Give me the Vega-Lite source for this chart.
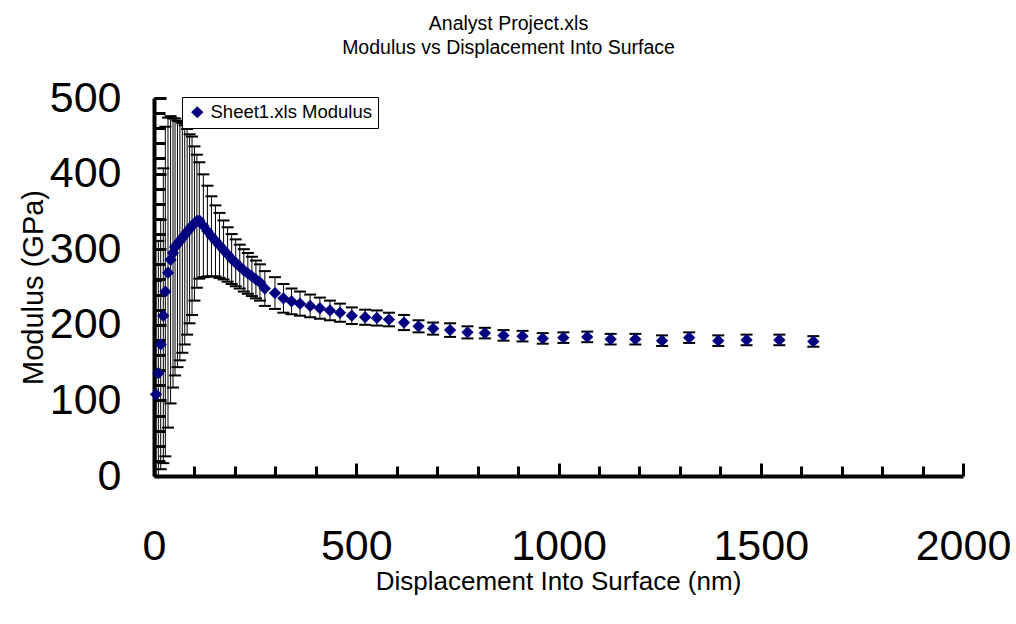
{
  "$schema": "https://vega.github.io/schema/vega-lite/v6.json",
  "width": 809,
  "height": 378,
  "autosize": {"type": "none"},
  "padding": {"left": 154, "top": 98, "right": 53, "bottom": 148},
  "background": "white",
  "title": {
    "text": ["Analyst Project.xls", "Modulus vs Displacement Into Surface"],
    "font": "Liberation Sans",
    "fontSize": 19.5,
    "fontWeight": "normal",
    "color": "black",
    "lineHeight": 24,
    "anchor": "middle",
    "dx": -50,
    "offset": 19
  },
  "config": {
    "view": {"stroke": null},
    "font": "Liberation Sans",
    "axis": {"labelOverlap": false}
  },
  "resolve": {"axis": {"y": "independent"}},
  "data": {
    "values": [
      {"x": 5, "y": 108, "lo": -42, "hi": 258},
      {"x": 10.7, "y": 136, "lo": -39, "hi": 311},
      {"x": 16.5, "y": 174, "lo": 9, "hi": 339},
      {"x": 23, "y": 212, "lo": 17, "hi": 407},
      {"x": 28, "y": 244, "lo": 26, "hi": 462},
      {"x": 34.6, "y": 269, "lo": 64, "hi": 474},
      {"x": 41, "y": 286, "lo": 96, "hi": 476},
      {"x": 47, "y": 295, "lo": 117, "hi": 473},
      {"x": 52, "y": 303, "lo": 133, "hi": 473},
      {"x": 58, "y": 307, "lo": 144, "hi": 470},
      {"x": 64, "y": 311, "lo": 153, "hi": 469},
      {"x": 70, "y": 315, "lo": 163, "hi": 467},
      {"x": 76, "y": 319, "lo": 174, "hi": 464},
      {"x": 82, "y": 323, "lo": 187, "hi": 459},
      {"x": 88, "y": 327, "lo": 202, "hi": 452},
      {"x": 94, "y": 331, "lo": 213, "hi": 449},
      {"x": 100, "y": 334, "lo": 232, "hi": 436},
      {"x": 106, "y": 337, "lo": 249, "hi": 425},
      {"x": 112, "y": 338, "lo": 261, "hi": 415},
      {"x": 122, "y": 331, "lo": 263, "hi": 399},
      {"x": 132, "y": 324, "lo": 264, "hi": 384},
      {"x": 142, "y": 317, "lo": 264, "hi": 370},
      {"x": 152, "y": 311, "lo": 264, "hi": 358},
      {"x": 162, "y": 305, "lo": 262, "hi": 348},
      {"x": 172, "y": 299, "lo": 260, "hi": 338},
      {"x": 182, "y": 293, "lo": 257, "hi": 329},
      {"x": 192, "y": 287, "lo": 254, "hi": 320},
      {"x": 202, "y": 282, "lo": 251, "hi": 313},
      {"x": 212, "y": 277, "lo": 248, "hi": 306},
      {"x": 222, "y": 272, "lo": 244, "hi": 300},
      {"x": 232, "y": 268, "lo": 241, "hi": 295},
      {"x": 242, "y": 264, "lo": 238, "hi": 290},
      {"x": 252, "y": 260, "lo": 235, "hi": 285},
      {"x": 262, "y": 256, "lo": 232, "hi": 280},
      {"x": 274, "y": 248, "lo": 225, "hi": 271},
      {"x": 299, "y": 242, "lo": 221, "hi": 263},
      {"x": 320, "y": 235, "lo": 216, "hi": 254},
      {"x": 340, "y": 231, "lo": 214, "hi": 248},
      {"x": 361, "y": 228, "lo": 212, "hi": 244},
      {"x": 386, "y": 225, "lo": 210, "hi": 240},
      {"x": 410, "y": 222, "lo": 208, "hi": 236},
      {"x": 435, "y": 219, "lo": 206, "hi": 232},
      {"x": 460, "y": 216, "lo": 204, "hi": 228},
      {"x": 489, "y": 212, "lo": 201, "hi": 223},
      {"x": 522, "y": 210, "lo": 200, "hi": 220},
      {"x": 551, "y": 209, "lo": 199, "hi": 219},
      {"x": 581, "y": 207, "lo": 198, "hi": 216},
      {"x": 618, "y": 203, "lo": 193, "hi": 213},
      {"x": 654, "y": 198, "lo": 190, "hi": 206},
      {"x": 690, "y": 195, "lo": 187, "hi": 203},
      {"x": 732, "y": 193, "lo": 184, "hi": 202},
      {"x": 775, "y": 190, "lo": 182, "hi": 198},
      {"x": 818, "y": 189, "lo": 182, "hi": 196},
      {"x": 864, "y": 186, "lo": 179, "hi": 193},
      {"x": 911, "y": 185, "lo": 178, "hi": 192},
      {"x": 961, "y": 182, "lo": 175, "hi": 189},
      {"x": 1012, "y": 183, "lo": 176, "hi": 190},
      {"x": 1071, "y": 184, "lo": 177, "hi": 191},
      {"x": 1129, "y": 181, "lo": 174, "hi": 188},
      {"x": 1190, "y": 181, "lo": 174, "hi": 188},
      {"x": 1256, "y": 179, "lo": 172, "hi": 186},
      {"x": 1323, "y": 183, "lo": 176, "hi": 190},
      {"x": 1395, "y": 179, "lo": 172, "hi": 186},
      {"x": 1465, "y": 180, "lo": 173, "hi": 187},
      {"x": 1546, "y": 180, "lo": 173, "hi": 187},
      {"x": 1630, "y": 178, "lo": 171, "hi": 185}
    ]
  },
  "encoding": {
    "x": {
      "field": "x",
      "type": "quantitative",
      "scale": {"domain": [0, 2000], "nice": false, "zero": false},
      "axis": {
        "title": "Displacement Into Surface (nm)",
        "values": [0,100,200,300,400,500,600,700,800,900,1000,1100,1200,1300,1400,1500,1600,1700,1800,1900,2000],
        "labelExpr": "datum.value % 500 === 0 ? datum.label : ''",
        "format": "d",
        "grid": false,
        "domainColor": "black",
        "domainWidth": 4,
        "tickColor": "black",
        "tickWidth": 3,
        "tickSize": {"condition": {"test": "datum.value % 500 === 0", "value": -13}, "value": -10},
        "labelFontSize": 43,
        "labelColor": "black",
        "labelPadding": 62,
        "labelFlush": false,
        "labelOverlap": false,
        "titleFontSize": 26,
        "titleFontWeight": "normal",
        "titleColor": "black",
        "titleX": 404,
        "titleY": 105,
        "titleBaseline": "middle",
        "titleAlign": "center"
      }
    }
  },
  "layer": [
    {
      "mark": {"type": "rule", "color": "black", "strokeWidth": 1, "clip": true},
      "encoding": {
        "y": {
          "field": "lo",
          "type": "quantitative",
          "scale": {"domain": [0, 500], "nice": false, "zero": false},
          "axis": {
            "orient": "left",
            "title": "Modulus (GPa)",
            "values": [0, 100, 200, 300, 400, 500],
            "format": "d",
            "grid": false,
            "domainColor": "black",
            "domainWidth": 4,
            "tickColor": "black",
            "tickWidth": 3,
            "tickSize": -12,
            "labelFontSize": 43,
            "labelColor": "black",
            "labelPadding": 45,
            "labelFlush": false,
            "labelOverlap": false,
            "labelBound": false,
            "titleFontSize": 29,
            "titleFontWeight": "normal",
            "titleColor": "black",
            "titleX": -121,
            "titleY": 189,
            "titleAngle": -90,
            "titleBaseline": "middle",
            "titleAlign": "center"
          }
        },
        "y2": {"field": "hi"}
      }
    },
    {
      "mark": {"type": "point", "shape": "stroke", "filled": false, "stroke": "black", "strokeWidth": 2, "size": 144, "opacity": 1, "clip": true},
      "encoding": {
        "y": {
          "field": "lo",
          "type": "quantitative",
          "axis": {
            "orient": "left",
            "title": null,
            "values": [0,20,40,60,80,100,120,140,160,180,200,220,240,260,280,300,320,340,360,380,400,420,440,460,480,500],
            "labels": false,
            "domain": false,
            "grid": false,
            "offset": 0,
            "tickColor": "black",
            "tickWidth": 3,
            "tickSize": -11
          }
        }
      }
    },
    {
      "mark": {"type": "point", "shape": "stroke", "filled": false, "stroke": "black", "strokeWidth": 2, "size": 144, "opacity": 1, "clip": true},
      "encoding": {
        "y": {"field": "hi", "type": "quantitative", "axis": null}
      }
    },
    {
      "mark": {"type": "point", "shape": "diamond", "filled": true, "size": 150, "opacity": 1, "strokeWidth": 1},
      "encoding": {
        "y": {"field": "y", "type": "quantitative", "axis": null},
        "color": {
          "datum": "Sheet1.xls Modulus",
          "type": "nominal",
          "scale": {"range": ["#000080"]},
          "legend": {
            "title": null,
            "orient": "none",
            "legendX": 28,
            "legendY": -1,
            "symbolType": "diamond",
            "symbolSize": 150,
            "symbolStrokeWidth": 0,
            "labelFontSize": 18.5,
            "labelColor": "black",
            "labelLimit": 400,
            "padding": 6,
            "strokeColor": "black",
            "fillColor": "white",
            "cornerRadius": 0
          }
        }
      }
    }
  ]
}
